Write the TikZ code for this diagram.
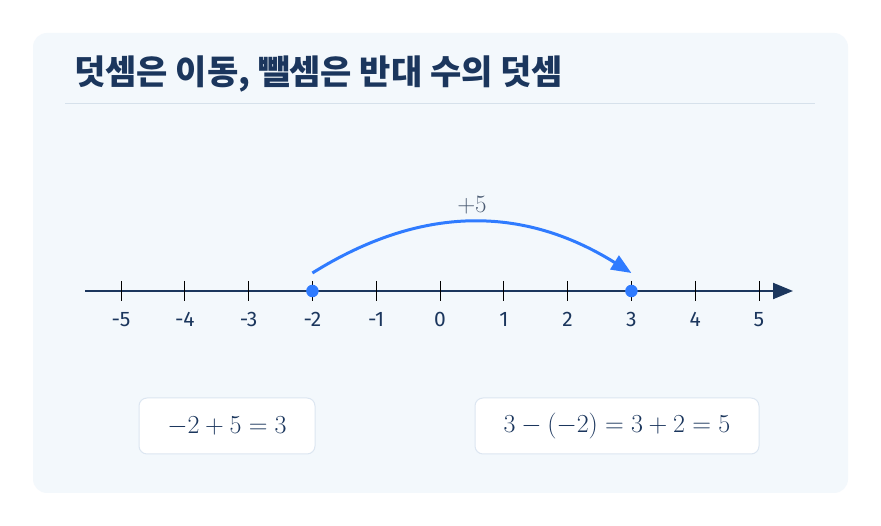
\RequirePackage{fix-cm}
\documentclass[tikz,border=0pt]{standalone}
\usepackage{amsmath}
\usepackage{fontspec}
\setsansfont{Fira Sans}
\newfontfamily\krfont{Noto Sans CJK KR}
\usetikzlibrary{arrows.meta,calc,positioning}
\definecolor{cardbg}{HTML}{F3F8FC}
\definecolor{rulegray}{HTML}{D6E1EB}
\definecolor{navy}{HTML}{1B365D}
\definecolor{jumpblue}{HTML}{2F7BFF}
\definecolor{boxline}{HTML}{DCE6F1}
\definecolor{labelgray}{HTML}{4A5A72}
\tikzset{>=Stealth,
	card/.style={fill=cardbg, draw=none, rounded corners=14pt},
	tick/.style={draw=black, line width=1pt},
	numlbl/.style={font=\sffamily\fontsize{21}{25}\selectfont, text=navy, inner sep=0pt, anchor=base},
	dot/.style={circle, fill=jumpblue, minimum size=12.5pt, inner sep=0pt},
	eqbox/.style={% boxes with the two sums
		draw=boxline, fill=white,
		rounded corners=8pt,
		line width=1pt,
		minimum height=56pt,
		text=navy,
		font=\fontsize{26}{30}\selectfont
	}
}

\begin{document}
\begin{tikzpicture}[x=1pt,y=1pt]
	\useasboundingbox (0,0) rectangle (881,526);
	\fill[white] (0,0) rectangle (881,526);
	\path[card] (33,33) rectangle (848,493);
	
	\node (title) [anchor=west, inner sep=0pt, text=navy, font=\krfont\bfseries\fontsize{34}{40}\selectfont] at (74,452) {덧셈은 이동, 뺄셈은 반대 수의 덧셈};
	\draw[rulegray, line width=1pt] (65,422) -- (815,422);
	
	% Number line with ticks and labels.
	\coordinate (start) at (85,235);
	\coordinate (end) at (793,235);
	\draw[navy, line width=2pt, -{Triangle[length=20pt,width=16pt]}] (start) -- (end);
	\foreach \i [count=\k] in {-5,...,5}{
		\coordinate (t\k) at ({440+63.8*\i},235);
		\draw[tick] ([yshift=10pt]t\k) -- ([yshift=-10pt]t\k);
		\node[numlbl] (l\k) at ([yshift=-36pt]t\k) {\i};
	}
	
	\node[dot] (from) at (t4) {};
	\node[dot] (to) at (t9) {};
	\draw[jumpblue, line width=3pt, -{Triangle[length=20pt,width=16pt]}] ([yshift=18pt]from.center)
	.. controls +(32:128) and +(148:128) .. ([yshift=18pt]to.center);
	\node (jump) [text=labelgray, font=\fontsize{25}{30}\selectfont] at (472,321) {$+5$};
	
	\node[eqbox, minimum width=176pt] (lhs) at (227,100) {$-2+5=3$};
	\node[eqbox, minimum width=284pt] (rhs) at (617,100) {$3-(-2)=3+2=5$};
\end{tikzpicture}
\end{document}
